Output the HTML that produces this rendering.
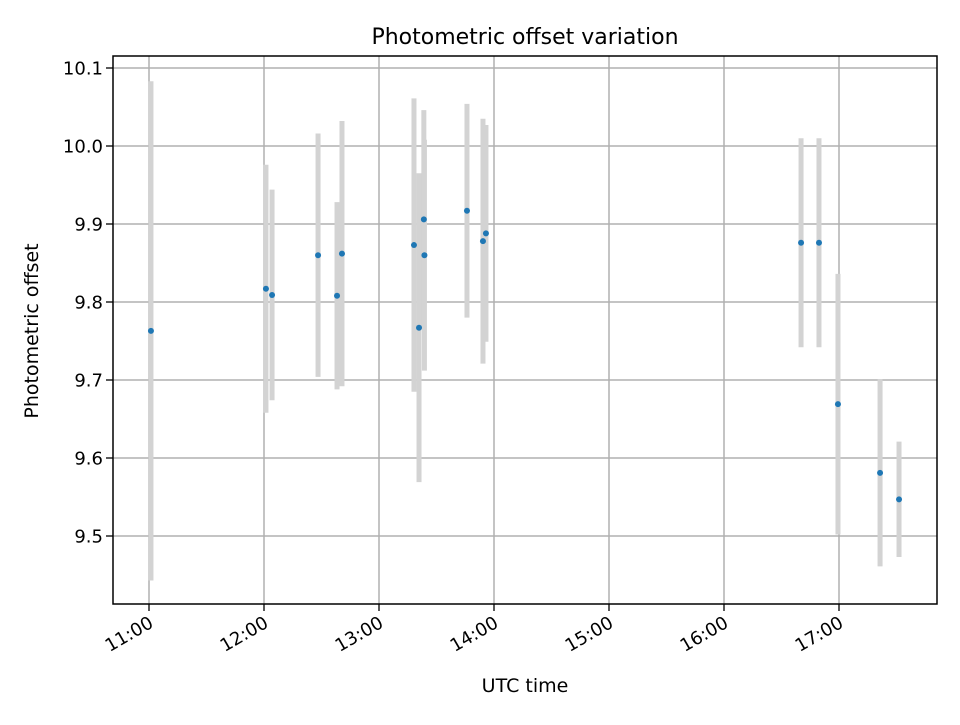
<!DOCTYPE html>
<html><head><meta charset="utf-8"><style>
body{margin:0;background:#fff;}
svg text{font-family:"DejaVu Sans","Liberation Sans",sans-serif;fill:#000;}
</style></head><body>
<svg id="chart" width="960" height="720" xmlns="http://www.w3.org/2000/svg">
<rect width="960" height="720" fill="#fff"/>
<text x="525" y="44" font-size="22" text-anchor="middle">Photometric offset variation</text>
<text x="525" y="692" font-size="19" text-anchor="middle">UTC time</text>
<text transform="translate(38,331) rotate(-90)" font-size="19" text-anchor="middle">Photometric offset</text>
<g id="grid"></g><g id="bars"></g><g id="pts"></g><g id="ticks"></g>
<rect x="113" y="56" width="824" height="548" fill="none" stroke="#000" stroke-width="1.5"/>
</svg>
<script>
const times=[11.017,12.017,12.07,12.47,12.635,12.678,13.304,13.348,13.39,13.395,13.765,13.904,13.93,16.67,16.826,16.991,17.357,17.522];
const values=[9.763,9.817,9.809,9.860,9.808,9.862,9.873,9.767,9.906,9.860,9.917,9.878,9.888,9.876,9.876,9.669,9.581,9.547];
const errors=[0.32,0.159,0.135,0.156,0.12,0.17,0.188,0.198,0.14,0.148,0.137,0.157,0.139,0.134,0.134,0.167,0.12,0.074];
const xTicks=[11,12,13,14,15,16,17];
const xTickLabels=["11:00","12:00","13:00","14:00","15:00","16:00","17:00"];
const yTicks=[9.5,9.6,9.7,9.8,9.9,10.0,10.1];
const yTickLabels=["9.5","9.6","9.7","9.8","9.9","10.0","10.1"];
const NS="http://www.w3.org/2000/svg";
const X=h=>149+(h-11)*115;
const Y=v=>146+(10.0-v)*780;
function mk(tag,attrs,parent){const e=document.createElementNS(NS,tag);for(const k in attrs)e.setAttribute(k,attrs[k]);document.getElementById(parent).appendChild(e);return e;}
xTicks.forEach((t,i)=>{
 const x=X(t);
 const g=mk('line',{x1:x,x2:x,y1:56,y2:604,stroke:'#b0b0b0','stroke-width':1.5},'grid');
 
 
 const tk=mk('line',{x1:x,x2:x,y1:604,y2:611,stroke:'#000','stroke-width':1.3},'ticks');
 
 
 const tx=mk('text',{transform:`translate(${x+3},${622}) rotate(-30)`,'font-size':18,'text-anchor':'end','dominant-baseline':'middle'},'ticks');
 tx.textContent=xTickLabels[i];
 
 
});
yTicks.forEach((t,i)=>{
 const y=Y(t);
 const g=mk('line',{x1:113,x2:937,y1:y,y2:y,stroke:'#b0b0b0','stroke-width':1.5},'grid');
 
 
 const tk=mk('line',{x1:106,x2:113,y1:y,y2:y,stroke:'#000','stroke-width':1.3},'ticks');
 
 
 const tx=mk('text',{x:103,y:y+6.5,'font-size':18,'text-anchor':'end'},'ticks');
 tx.textContent=yTickLabels[i];
 
 
});
times.forEach((t,i)=>{
 const x=X(t);
 const b=mk('line',{x1:x,x2:x,y1:Y(values[i]+errors[i]),y2:Y(values[i]-errors[i]),stroke:'#d3d3d3','stroke-width':5},'bars');
 
 
});
times.forEach((t,i)=>{
 const p=mk('circle',{cx:X(t),cy:Y(values[i]),r:3,fill:'#1f77b4'},'pts');
 
 
});
</script>
</body></html>
